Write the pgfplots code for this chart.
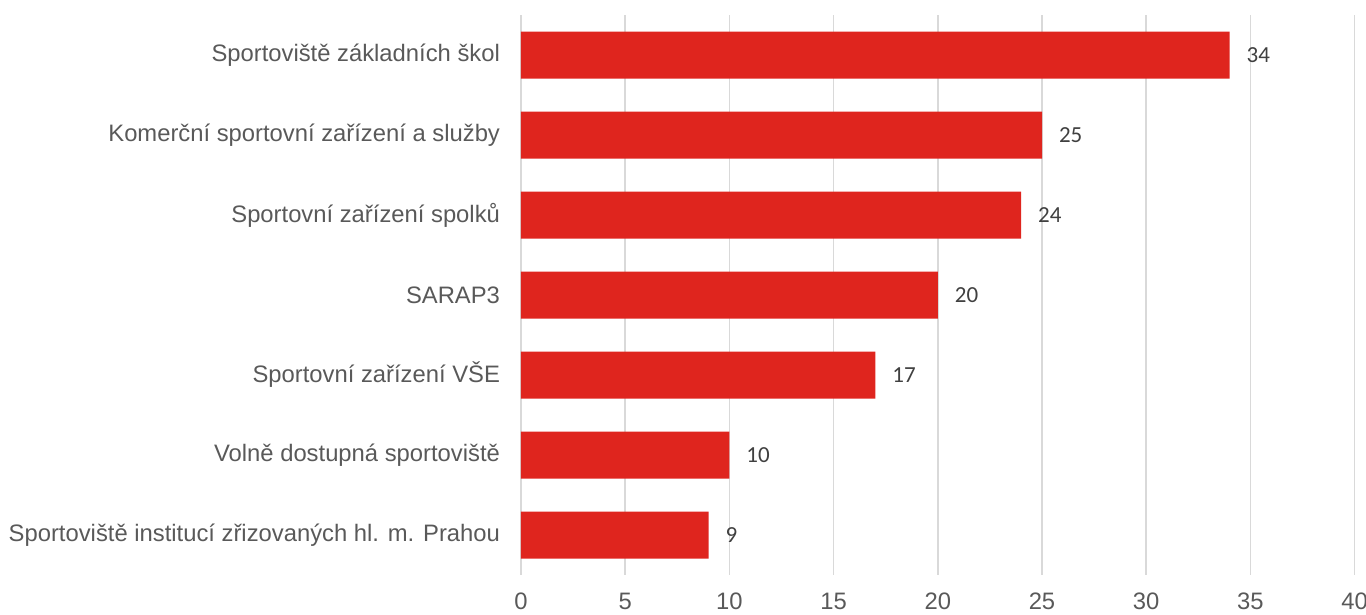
\documentclass[border=0pt]{standalone}
\usepackage{fontspec}
\setmainfont{Liberation Sans}
\newfontfamily\carlito{Carlito}
\usepackage{pgfplots}
\pgfplotsset{compat=1.18}
\definecolor{barred}{RGB}{223,37,30}
\definecolor{gridgray}{RGB}{217,217,217}
\definecolor{labgray}{RGB}{89,89,89}
\definecolor{valgray}{RGB}{64,64,64}
\begin{document}
\begin{tikzpicture}[x=1pt,y=1pt]
\useasboundingbox (0,0) rectangle (683,307.5);
\begin{axis}[
  at={(260.5pt,20pt)}, anchor=south west,
  scale only axis,
  width=416.8pt, height=280pt,
  xbar, bar width=23.5pt,
  xmin=0, xmax=40,
  xtick={0,5,...,40},
  ymin=-0.5, ymax=6.5, y dir=reverse,
  ytick={0,...,6},
  yticklabels={Sportoviště základních škol,Komerční sportovní zařízení a služby,Sportovní zařízení spolků,SARAP3,Sportovní zařízení VŠE,Volně dostupná sportoviště,Sportoviště institucí zřizovaných hl. m. Prahou},
  xmajorgrids, grid style={gridgray, line width=0.8pt},
  axis line style={draw=none},
  major tick length=0pt,
  tick label style={font=\fontsize{11.9}{14}\selectfont, text=labgray},
  yticklabel style={xshift=-7pt},
  xticklabel style={yshift=-5.5pt},
  /pgf/number format/assume math mode=true,
  nodes near coords,
  every node near coord/.append style={font=\carlito\fontsize{11.5}{13}\selectfont, text=valgray, anchor=west, xshift=5pt},
  clip=false,
]
\addplot[fill=barred, draw=none] coordinates {
(34,0) (25,1) (24,2) (20,3) (17,4) (10,5) (9,6)
};
\end{axis}
\end{tikzpicture}
\end{document}
